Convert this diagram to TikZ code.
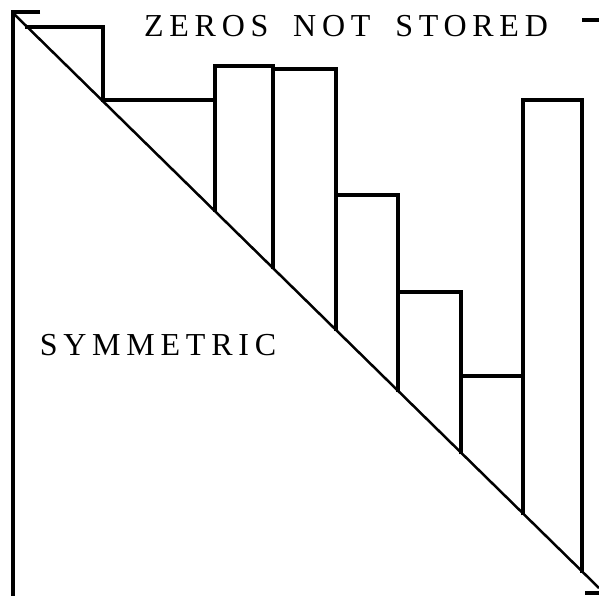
\documentclass[tikz,border=0pt]{standalone}
\usepackage{fontspec}
\setmainfont{Liberation Serif}
\newfontfamily\platefont[LetterSpace=18,WordSpace=1.8]{Liberation Serif}
\usetikzlibrary{calc}
\tikzset{
  frame/.style={line width=3.5pt},
  skyline/.style={line width=3.5pt,line join=miter},
  diag/.style={line width=2.5pt},
  platetext/.style={font=\platefont\fontsize{32}{32}\selectfont,inner sep=0pt}
}
% one column of the skyline: left x, right x, top y
\newcommand{\skycolumn}[3]{%
  \pgfmathsetmacro{\sBotL}{13+0.985*(#1-13)}%
  \pgfmathsetmacro{\sBotR}{13+0.985*(#2-13)}%
  \draw[skyline] (#1,\sBotL) -- (#1,#3) -- (#2,#3) -- (#2,\sBotR);%
}

\begin{document}
\begin{tikzpicture}[x=1pt,y=-1pt]
  \useasboundingbox (0,0) rectangle (599,596);
  % brackets
  \draw[frame] (40,12) -- (13,12) -- (13,596);
  \draw[frame] (582,20) -- (599,20);
  \draw[frame] (585,593) -- (599,593);
  % diagonal
  \draw[diag] (13,13) -- (599,588);
  % skyline
  \skycolumn{27}{103}{27}
  \skycolumn{103}{215}{100}
  \skycolumn{215}{273}{66}
  \skycolumn{273}{336}{69}
  \skycolumn{336}{398}{195}
  \skycolumn{398}{461}{292}
  \skycolumn{461}{523}{376}
  \skycolumn{523}{582}{100}
  % labels
  \node[platetext] (zeros) at (346,26) {ZEROS NOT STORED};
  \node[platetext] (symm) at (158,345) {SYMMETRIC};
\end{tikzpicture}
\end{document}
